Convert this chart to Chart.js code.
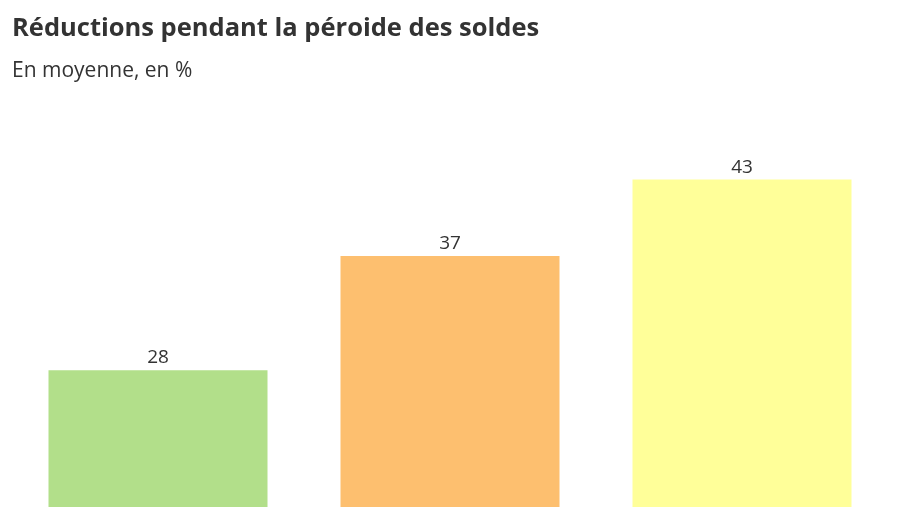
<!DOCTYPE html>
<html>
<head>
<meta charset="utf-8">
<script src="https://cdn.jsdelivr.net/npm/chart.js@4"></script>
<style>
  html, body { margin: 0; padding: 0; background: #fff; overflow: hidden; }
  #wrap { width: 900px; height: 507px; }
</style>
</head>
<body>
<div id="wrap"><canvas id="grafica_soldes"></canvas></div>
<script>
var categories = ["Catégorie 1", "Catégorie 2", "Catégorie 3"];
var reductions = [28, 37, 43];
var colores = ["#b2df8a", "#fdbf6f", "#ffff99"];

// etiquetas encima de cada barra
var etiquetas = {
  id: "etiquetas",
  afterDatasetsDraw: function (chart) {
    var ctx = chart.ctx;
    var meta = chart.getDatasetMeta(0);
    ctx.save();
    ctx.font = "19px 'Open Sans'";
    ctx.fillStyle = "#333333";
    ctx.textAlign = "center";
    ctx.textBaseline = "bottom";
    meta.data.forEach(function (bar, i) {
      ctx.fillText(reductions[i], bar.x, bar.y - 3);
    });
    ctx.restore();
  },
};

var ctx = document.getElementById("grafica_soldes").getContext("2d");
var myChart = new Chart(ctx, {
  type: "bar",
  data: {
    labels: categories,
    datasets: [
      {
        label: "Réductions",
        data: reductions,
        backgroundColor: colores,
        borderWidth: 0,
        barPercentage: 0.75,
        categoryPercentage: 1,
      },
    ],
  },
  options: {
    responsive: true,
    maintainAspectRatio: false,
    animation: false,
    layout: { padding: { left: 12, right: 12, top: 0, bottom: 0 } },
    scales: {
      x: { display: false },
      y: { display: false, min: 17.25, max: 49.75 },
    },
    plugins: {
      legend: { display: false },
      tooltip: { enabled: false },
      title: {
        display: true,
        text: "Réductions pendant la péroide des soldes",
        align: "start",
        color: "#333333",
        font: { family: "'Open Sans'", size: 25.5, weight: "bold" },
        padding: { top: 13, bottom: 15 },
      },
      subtitle: {
        display: true,
        text: "En moyenne, en %",
        align: "start",
        color: "#333333",
        font: { family: "'Open Sans'", size: 21 },
        padding: { top: 0, bottom: 10 },
      },
    },
  },
  plugins: [etiquetas],
});
</script>
</body>
</html>
